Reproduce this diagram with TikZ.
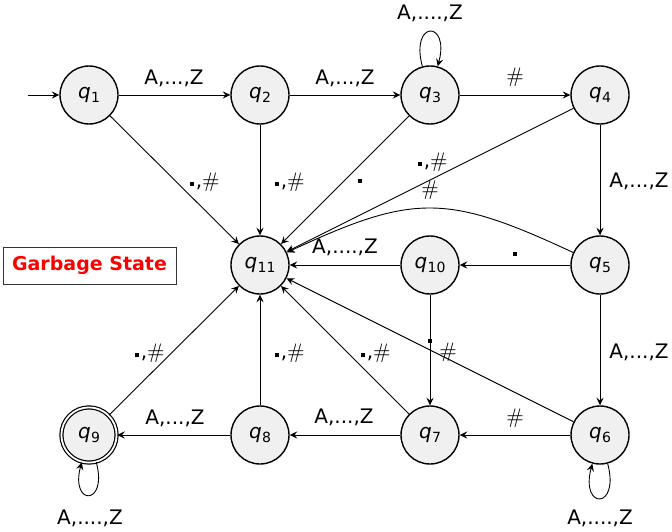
\documentclass[tikz,border=0pt]{standalone}
\usepackage{fontspec}
\setmainfont{DejaVu Sans}
\newfontfamily\lmfont{Latin Modern Roman}
\usetikzlibrary{arrows.meta}

% state name: slanted q with a small lowered index
\newcommand{\qs}[1]{\textit{q}\kern0.2pt\raisebox{-0.35ex}{\scriptsize #1}}
% small filled square used as the period input symbol
\newcommand{\dt}{\kern0.08em\rule[0.5pt]{0.2em}{0.2em}\kern0.1em}
% hash symbol in the roman font
\newcommand{\hs}{{\lmfont\fontsize{10.5pt}{12pt}\selectfont\#}}

\begin{document}
\begin{tikzpicture}[x=0.5pt,y=0.5pt,
  st/.style={circle,draw,line width=0.7pt,fill=black!6,minimum size=29pt,inner sep=0pt},
  acc/.style={st,double,line width=0.6pt,double distance=0.9pt,minimum size=27.6pt},
  e/.style={-{Stealth[length=3.8pt,width=3.6pt,inset=1.4pt]},line width=0.45pt},
  lbl/.style={inner sep=0pt}]
\useasboundingbox (0,0) rectangle (672,531);

% states
\node[st] (q1) at (89,436) {\qs{1}};
\node[st] (q2) at (260,436) {\qs{2}};
\node[st] (q3) at (430,436) {\qs{3}};
\node[st] (q4) at (600,436) {\qs{4}};
\node[st] (q11) at (260,266) {\qs{11}};
\node[st] (q10) at (430,266) {\qs{10}};
\node[st] (q5) at (600,266) {\qs{5}};
\node[acc] (q9) at (89,96) {\qs{9}};
\node[st] (q8) at (260,96) {\qs{8}};
\node[st] (q7) at (430,96) {\qs{7}};
\node[st] (q6) at (600,96) {\qs{6}};
\coordinate (start) at (28,436);

\node[draw=black!80,line width=0.5pt,text=red,font=\bfseries\fontsize{9.5pt}{11pt}\selectfont,
  minimum width=86.5pt,minimum height=18.5pt,inner sep=0pt]
  (gs) at (89.5,265.5) {Garbage State};

% transitions
\draw[e] (start) -- (q1);
\draw[e] (q1) -- (q2);
\draw[e] (q2) -- (q3);
\draw[e] (q3) -- (q4);
\draw[e] (q4) -- (q5);
\draw[e] (q5) -- (q6);
\draw[e] (q5) -- (q10);
\draw[e] (q10) -- (q11);
\draw[e] (q10) -- (q7);
\draw[e] (q6) -- (q7);
\draw[e] (q7) -- (q8);
\draw[e] (q8) -- (q9);
\draw[e] (q1) -- (q11);
\draw[e] (q2) -- (q11);
\draw[e] (q3) -- (q11);
\draw[e] (q4) -- (q11);
\draw[e] (q5) to[out=155,in=25,looseness=1.25] (q11);
\draw[e] (q6) -- (q11);
\draw[e] (q7) -- (q11);
\draw[e] (q8) -- (q11);
\draw[e] (q9) -- (q11);
\draw[e] (q3) to[loop above] (q3);
\draw[e] (q6) to[loop below] (q6);
\draw[e] (q9) to[loop below] (q9);

% transition labels
\node[lbl,anchor=base] (l12) at (174,446) {A,...,Z};
\node[lbl,anchor=base] (l23) at (345,446) {A,...,Z};
\node[lbl] (l34) at (515,454) {\hs};
\node[lbl,anchor=base] (l33) at (430,511) {A,....,Z};
\node[lbl,anchor=base west] (l45) at (609,344) {A,...,Z};
\node[lbl,anchor=base west] (l56) at (609,173) {A,...,Z};
\node[lbl,anchor=base] (l510) at (515,274) {\dt};
\node[lbl,anchor=base] (l1011) at (345,278) {A,....,Z};
\node[lbl] (l67) at (515,113) {\hs};
\node[lbl,anchor=base] (l78) at (344,108) {A,...,Z};
\node[lbl,anchor=base] (l89) at (175,107) {A,...,Z};
\node[lbl,anchor=base] (l99) at (90,7) {A,....,Z};
\node[lbl,anchor=base] (l66) at (600,7) {A,....,Z};
\node[lbl] (l111) at (204,349) {\dt,\hs};
\node[lbl] (l211) at (289,349) {\dt,\hs};
\node[lbl] (l311) at (360,350) {\dt};
\node[lbl] (l411) at (432,369) {\dt,\hs};
\node[lbl] (l511) at (430,341) {\hs};
\node[lbl] (l911) at (149,178) {\dt,\hs};
\node[lbl] (l811) at (289,178) {\dt,\hs};
\node[lbl] (l711) at (375,178) {\dt,\hs};
\node[lbl] (l611) at (448,179) {\hs};
\node[lbl] (l107) at (430,190) {\dt};
\end{tikzpicture}
\end{document}
